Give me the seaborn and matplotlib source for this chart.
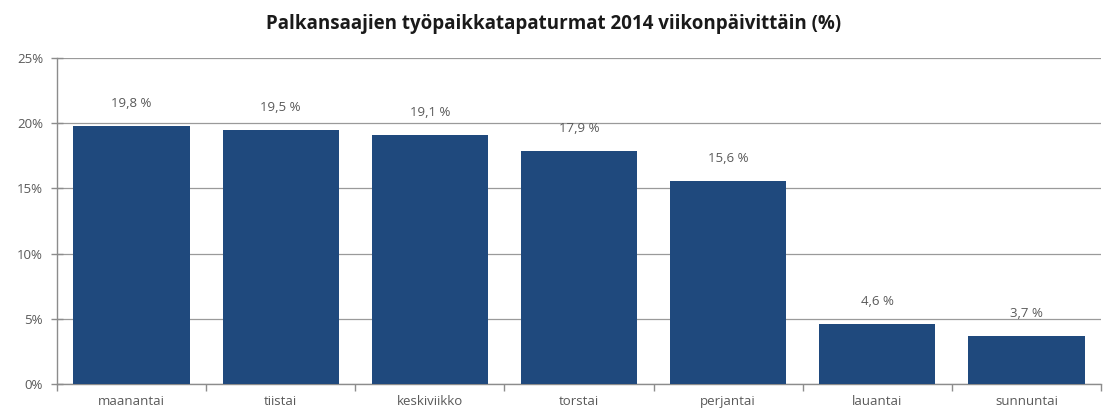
import matplotlib
matplotlib.use("Agg")
import matplotlib.pyplot as plt
import seaborn as sns
import pandas as pd
from matplotlib.ticker import FuncFormatter, FixedLocator

days = ["maanantai", "tiistai", "keskiviikko", "torstai", "perjantai", "lauantai", "sunnuntai"]
values = [19.8, 19.5, 19.1, 17.9, 15.6, 4.6, 3.7]
title = "Palkansaajien työpaikkatapaturmat 2014 viikonpäivittäin (%)"

sns.set_theme(style="white")
plt.rcParams["font.family"] = ["Open Sans", "DejaVu Sans"]

fig = plt.figure(figsize=(11.07, 4.12), dpi=100)
ax = fig.add_axes([0.0515, 0.068, 0.943, 0.791])

df = pd.DataFrame({"day": days, "value": values})
sns.barplot(data=df, x="day", y="value", color="#1F497D", saturation=1,
            width=0.78, ax=ax, zorder=3, edgecolor="none")

ax.set_ylim(0, 25)
ax.set_xlim(-0.5, len(days) - 0.5)
ax.set_yticks([0, 5, 10, 15, 20, 25])
ax.yaxis.set_major_formatter(FuncFormatter(lambda v, p: f"{int(v)}%"))
ax.grid(axis="y", color="#9a9a9a", linewidth=0.9, zorder=0)
ax.set_axisbelow(True)

for s in ["top", "right"]:
    ax.spines[s].set_visible(False)
for s in ["left", "bottom"]:
    ax.spines[s].set_color("#8c8c8c")
    ax.spines[s].set_linewidth(1.0)

ax.tick_params(axis="y", which="major", direction="inout", length=8, width=1,
               color="#8c8c8c", labelsize=9.5, labelcolor="#595959", pad=6, left=True)
ax.tick_params(axis="x", which="major", length=0, labelsize=9.5, labelcolor="#595959", pad=8)
ax.set_xticks(range(len(days)))
ax.set_xticklabels(days)
ax.xaxis.set_minor_locator(FixedLocator([i + 0.5 for i in range(-1, len(days))]))
ax.tick_params(axis="x", which="minor", direction="out", length=5, width=1,
               color="#8c8c8c", bottom=True)

ax.set_xlabel("")
ax.set_ylabel("")

for i, v in enumerate(values):
    ax.text(i, v + 1.2, f"{v:.1f} %".replace(".", ","), ha="center", va="bottom",
            fontsize=9.5, color="#595959")

fig.suptitle(title, y=0.965, fontsize=13.5, fontweight="bold", color="#1a1a1a")

fig.savefig("out.png", dpi=100, facecolor="white")
